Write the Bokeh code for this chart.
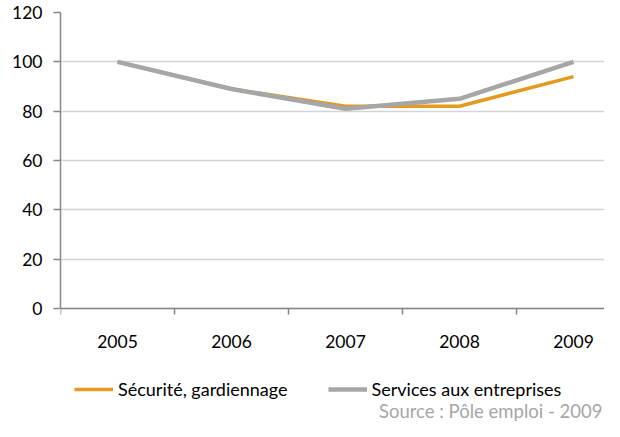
from bokeh.plotting import figure
from bokeh.models import Range1d, FixedTicker, Legend, LegendItem, Label
from bokeh.embed import file_html
from bokeh.resources import INLINE

years = ["2005", "2006", "2007", "2008", "2009"]
securite = [100, 89, 82, 82, 94]
services = [100, 89, 81, 85, 100]
y_ticks = [0, 20, 40, 60, 80, 100, 120]
source_text = "Source : Pôle emploi - 2009"

FONT = "Lato"
x = list(range(len(years)))

W, H = 604, 421
TOP, LEFT = 12, 60
PLOT_H = 296          # pixel height of the 0..120 value area
EXTRA = H - TOP - PLOT_H  # room under the value area for labels/legend/source

p = figure(width=W, height=H, output_backend="svg", toolbar_location=None,
           x_range=Range1d(-0.5, -0.5 + (W - LEFT) / 114),
           y_range=Range1d(-120 * EXTRA / PLOT_H, 120),
           min_border_left=LEFT, min_border_right=0, min_border_top=TOP,
           min_border_bottom=0)
p.outline_line_color = None
p.background_fill_color = "white"
p.border_fill_color = "white"

l1 = p.line(x, securite, line_color="#E39A1E", line_width=3.5)
l2 = p.line(x, services, line_color="#A6A6A6", line_width=4.5)

xa = p.xaxis[0]
xa.fixed_location = 0
xa.ticker = FixedTicker(ticks=x, minor_ticks=[i - 0.5 for i in range(len(years) + 1)])
xa.major_label_overrides = {i: yr for i, yr in enumerate(years)}
xa.major_tick_line_color = None
xa.major_tick_out = 0
xa.major_tick_in = 0
xa.minor_tick_out = 6
xa.minor_tick_in = 0
xa.minor_tick_line_color = "#868686"
xa.minor_tick_line_width = 1.5
xa.axis_line_color = "#868686"
xa.axis_line_width = 1.5
xa.major_label_text_font = FONT
xa.major_label_text_font_size = "17.5px"
xa.major_label_text_color = "#000000"
xa.major_label_standoff = 20

ya = p.yaxis[0]
ya.bounds = (0, 120)
ya.ticker = FixedTicker(ticks=y_ticks)
ya.minor_tick_line_color = None
ya.major_tick_out = 7
ya.major_tick_in = 0
ya.major_tick_line_color = "#868686"
ya.major_tick_line_width = 1.5
ya.axis_line_color = "#868686"
ya.axis_line_width = 1.5
ya.major_label_text_font = FONT
ya.major_label_text_font_size = "17.5px"
ya.major_label_text_color = "#000000"
ya.major_label_standoff = 11

p.xgrid.grid_line_color = None
p.ygrid.ticker = FixedTicker(ticks=y_ticks)
p.ygrid.grid_line_color = "#D4D4D4"
p.ygrid.grid_line_width = 1.5

legend = Legend(items=[LegendItem(label="Sécurité, gardiennage", renderers=[l1]),
                       LegendItem(label="Services aux entreprises", renderers=[l2])],
                orientation="horizontal", location=(14, 21),
                glyph_width=39, glyph_height=20, label_standoff=5, spacing=40,
                padding=0, margin=0, border_line_color=None,
                background_fill_alpha=0, label_text_font=FONT,
                label_text_font_size="18px", label_text_color="#000000")
p.add_layout(legend, "center")

src = Label(x=W - LEFT - 2, y=0, x_units="screen", y_units="screen",
            text=source_text, text_align="right", text_baseline="bottom",
            text_font=FONT, text_font_size="18.5px", text_color="#A6A6A6")
p.add_layout(src)

open("out.html", "w").write(file_html(p, INLINE))
